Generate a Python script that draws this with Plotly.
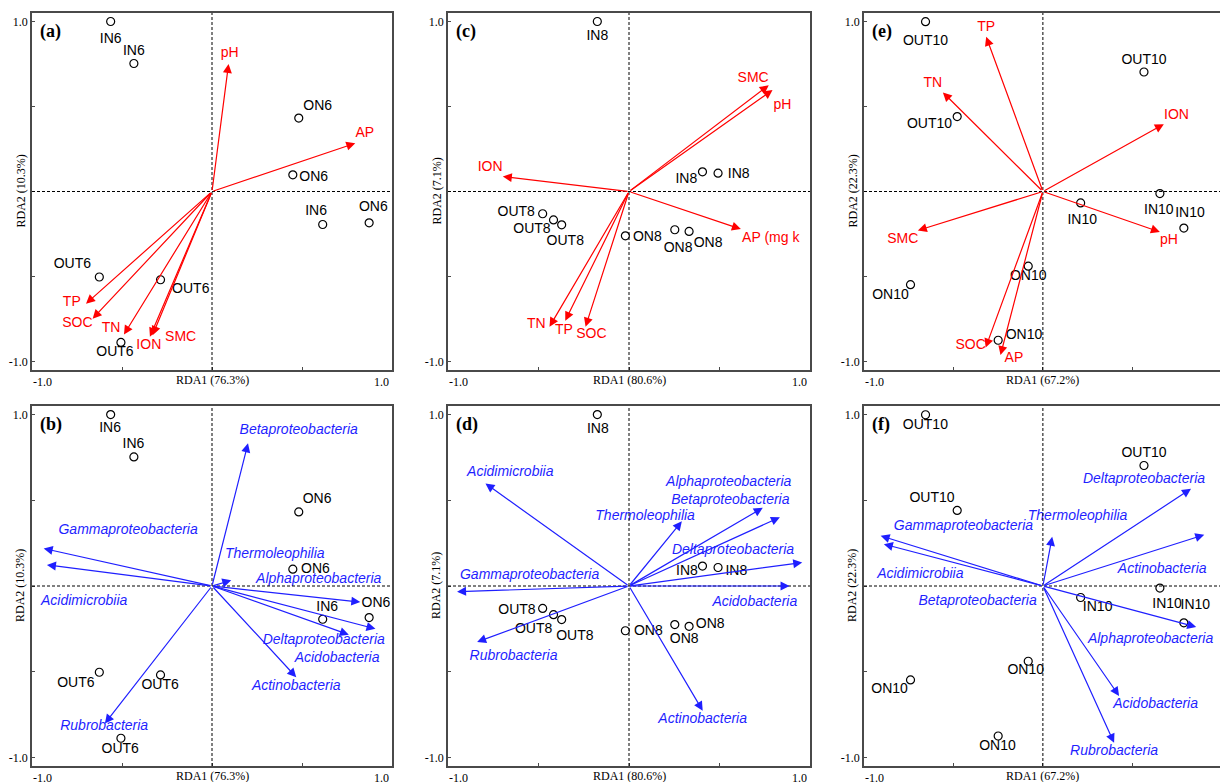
import plotly.graph_objects as go

# ---------------- data ----------------
# site scores (same samples in the upper and lower panel of each column)
s6_names = ["IN6", "IN6", "ON6", "ON6", "IN6", "ON6", "OUT6", "OUT6", "OUT6"]
s6_x = [-0.563, -0.434, 0.482, 0.449, 0.615, 0.873, -0.626, -0.286, -0.506]
s6_y = [1.000, 0.753, 0.432, 0.098, -0.194, -0.184, -0.503, -0.519, -0.888]

s8_names = ["IN8", "IN8", "IN8", "OUT8", "OUT8", "OUT8", "ON8", "ON8", "ON8"]
s8_x = [-0.175, 0.406, 0.492, -0.477, -0.417, -0.372, -0.020, 0.253, 0.332]
s8_y = [1.000, 0.116, 0.108, -0.131, -0.167, -0.196, -0.261, -0.225, -0.235]

s10_names = ["OUT10", "OUT10", "OUT10", "IN10", "IN10", "IN10", "ON10", "ON10", "ON10"]
s10_x = [-0.656, 0.565, -0.479, 0.211, 0.654, 0.788, -0.082, -0.740, -0.250]
s10_y = [0.999, 0.703, 0.441, -0.067, -0.012, -0.215, -0.439, -0.548, -0.875]

# sample label anchor positions per panel
a_lab_x = [-0.563, -0.434, 0.587, 0.565, 0.578, 0.896, -0.776, -0.118, -0.539]
a_lab_y = [0.896, 0.822, 0.499, 0.084, -0.115, -0.096, -0.431, -0.575, -0.949]
b_lab_x = [-0.566, -0.436, 0.584, 0.575, 0.640, 0.911, -0.756, -0.288, -0.510]
b_lab_y = [0.916, 0.826, 0.505, 0.094, -0.123, -0.104, -0.571, -0.581, -0.955]
c_lab_x = [-0.175, 0.317, 0.606, -0.623, -0.536, -0.352, 0.101, 0.271, 0.437]
c_lab_y = [0.911, 0.072, 0.098, -0.123, -0.221, -0.294, -0.270, -0.335, -0.306]
d_lab_x = [-0.172, 0.320, 0.593, -0.619, -0.527, -0.299, 0.107, 0.305, 0.449]
d_lab_y = [0.911, 0.084, 0.084, -0.141, -0.252, -0.297, -0.268, -0.313, -0.225]
e_lab_x = [-0.656, 0.565, -0.634, 0.220, 0.648, 0.822, -0.082, -0.852, -0.106]
e_lab_y = [0.881, 0.770, 0.396, -0.169, -0.110, -0.130, -0.500, -0.609, -0.845]
f_lab_x = [-0.657, 0.565, -0.620, 0.306, 0.694, 0.852, -0.096, -0.857, -0.254]
f_lab_y = [0.938, 0.772, 0.508, -0.127, -0.108, -0.113, -0.495, -0.606, -0.935]

# environmental vectors
a_env = ["pH", "AP", "TP", "SOC", "TN", "ION", "SMC"]
a_env_x = [0.092, 0.796, -0.700, -0.663, -0.489, -0.345, -0.330]
a_env_y = [0.750, 0.284, -0.660, -0.748, -0.841, -0.855, -0.845]
a_env_lx = [0.098, 0.849, -0.779, -0.748, -0.561, -0.351, -0.174]
a_env_ly = [0.812, 0.339, -0.654, -0.777, -0.806, -0.904, -0.861]

c_env = ["SMC", "pH", "ION", "AP (mg k", "TN", "TP", "SOC"]
c_env_x = [0.772, 0.793, -0.697, 0.618, -0.439, -0.352, -0.240]
c_env_y = [0.625, 0.597, 0.088, -0.221, -0.795, -0.760, -0.795]
c_env_lx = [0.686, 0.848, -0.767, 0.783, -0.512, -0.359, -0.208]
c_env_ly = [0.664, 0.503, 0.141, -0.276, -0.784, -0.815, -0.844]

e_env = ["TP", "TN", "ION", "SMC", "pH", "SOC", "AP"]
e_env_x = [-0.317, -0.559, 0.676, -0.699, 0.654, -0.320, -0.237]
e_env_y = [0.910, 0.583, 0.396, -0.229, -0.238, -0.918, -0.962]
e_env_lx = [-0.317, -0.615, 0.747, -0.783, 0.704, -0.404, -0.162]
e_env_ly = [0.967, 0.633, 0.445, -0.282, -0.288, -0.908, -0.983]

# bacterial class vectors
b_sp = ["Betaproteobacteria", "Gammaproteobacteria", "Acidimicrobiia", "Thermoleophilia",
        "Alphaproteobacteria", "Acidobacteria", "Deltaproteobacteria", "Actinobacteria", "Rubrobacteria"]
b_sp_x = [0.200, -0.935, -0.917, 0.107, 0.824, 0.908, 0.760, 0.468, -0.595]
b_sp_y = [0.832, 0.219, 0.123, 0.033, -0.094, -0.250, -0.284, -0.532, -0.802]
b_sp_lx = [0.482, -0.466, -0.710, 0.349, 0.593, 0.695, 0.621, 0.468, -0.599]
b_sp_ly = [0.910, 0.323, -0.092, 0.182, 0.039, -0.425, -0.317, -0.587, -0.822]

d_sp = ["Acidimicrobiia", "Alphaproteobacteria", "Betaproteobacteria", "Thermoleophilia",
        "Deltaproteobacteria", "Gammaproteobacteria", "Acidobacteria", "Rubrobacteria", "Actinobacteria"]
d_sp_x = [-0.793, 0.739, 0.834, 0.292, 0.957, -0.950, 0.887, -0.839, 0.407]
d_sp_y = [0.598, 0.456, 0.401, 0.377, 0.137, -0.033, 0.000, -0.326, -0.727]
d_sp_lx = [-0.656, 0.551, 0.560, 0.089, 0.575, -0.549, 0.695, -0.638, 0.407]
d_sp_ly = [0.665, 0.606, 0.499, 0.407, 0.205, 0.059, -0.098, -0.414, -0.780]

f_sp = ["Deltaproteobacteria", "Gammaproteobacteria", "Acidimicrobiia", "Thermoleophilia",
        "Actinobacteria", "Betaproteobacteria", "Alphaproteobacteria", "Acidobacteria", "Rubrobacteria"]
f_sp_x = [0.828, -0.907, -0.889, 0.052, 0.902, 0.000, 0.857, 0.426, 0.398]
f_sp_y = [0.567, 0.293, 0.244, 0.287, 0.299, 0.006, -0.239, -0.641, -0.915]
f_sp_lx = [0.565, -0.444, -0.685, 0.194, 0.667, -0.365, 0.602, 0.630, 0.398]
f_sp_ly = [0.622, 0.348, 0.065, 0.407, 0.094, -0.088, -0.313, -0.690, -0.964]

rda1 = ["RDA1 (76.3%)", "RDA1 (80.6%)", "RDA1 (67.2%)"]
rda2 = ["RDA2 (10.3%)", "RDA2 (7.1%)", "RDA2 (22.3%)"]

# ---------------- styling ----------------
W, H = 1220, 782
RED = "#ff0000"
BLUE = "#1f1fff"
SERIF = "Liberation Serif, Times New Roman, serif"
SANS = "Liberation Sans, Arial, sans-serif"
col_px = [(32, 392), (448, 810), (864, 1220)]
row_px = [(13, 370), (406, 766)]
x_ranges = [[-1, 1], [-1, 1], [-1, 0.99]]

panels = [
    dict(letter="(a)", col=0, row=0, names=s6_names, sx=s6_x, sy=s6_y, lx=a_lab_x, ly=a_lab_y,
         vn=a_env, vx=a_env_x, vy=a_env_y, vlx=a_env_lx, vly=a_env_ly, color=RED, italic=False),
    dict(letter="(b)", col=0, row=1, names=s6_names, sx=s6_x, sy=s6_y, lx=b_lab_x, ly=b_lab_y,
         vn=b_sp, vx=b_sp_x, vy=b_sp_y, vlx=b_sp_lx, vly=b_sp_ly, color=BLUE, italic=True),
    dict(letter="(c)", col=1, row=0, names=s8_names, sx=s8_x, sy=s8_y, lx=c_lab_x, ly=c_lab_y,
         vn=c_env, vx=c_env_x, vy=c_env_y, vlx=c_env_lx, vly=c_env_ly, color=RED, italic=False),
    dict(letter="(d)", col=1, row=1, names=s8_names, sx=s8_x, sy=s8_y, lx=d_lab_x, ly=d_lab_y,
         vn=d_sp, vx=d_sp_x, vy=d_sp_y, vlx=d_sp_lx, vly=d_sp_ly, color=BLUE, italic=True),
    dict(letter="(e)", col=2, row=0, names=s10_names, sx=s10_x, sy=s10_y, lx=e_lab_x, ly=e_lab_y,
         vn=e_env, vx=e_env_x, vy=e_env_y, vlx=e_env_lx, vly=e_env_ly, color=RED, italic=False),
    dict(letter="(f)", col=2, row=1, names=s10_names, sx=s10_x, sy=s10_y, lx=f_lab_x, ly=f_lab_y,
         vn=f_sp, vx=f_sp_x, vy=f_sp_y, vlx=f_sp_lx, vly=f_sp_ly, color=BLUE, italic=True),
]

fig = go.Figure()
annotations = []
shapes = []
layout = dict(width=W, height=H, margin=dict(l=0, r=0, t=0, b=0, pad=0, autoexpand=False),
              paper_bgcolor="white", plot_bgcolor="white", showlegend=False)

pad = "\u00a0" * 7
for i, p in enumerate(panels, start=1):
    xa = "x" if i == 1 else f"x{i}"
    ya = "y" if i == 1 else f"y{i}"
    c, r = p["col"], p["row"]
    x0, x1 = col_px[c]
    y0, y1 = row_px[r]
    xdom = [x0 / W, min(1.0, x1 / W)]
    ydom = [1 - y1 / H, 1 - y0 / H]
    layout["xaxis" if i == 1 else f"xaxis{i}"] = dict(
        domain=xdom, range=x_ranges[c], anchor=ya, showgrid=False, zeroline=False,
        automargin=False,
        showline=True, mirror=True, linecolor="#4a4a4a", linewidth=1.5,
        ticks="inside", ticklen=3, tickcolor="#4a4a4a",
        tickvals=[-1, -0.5, 0, 0.5, 1], ticktext=[pad + "-1.0", "", "", "", "1.0" + pad],
        tickfont=dict(family=SERIF, size=12, color="black"), fixedrange=True)
    layout["yaxis" if i == 1 else f"yaxis{i}"] = dict(
        domain=ydom, range=[-1.05, 1.05], anchor=xa, showgrid=False, zeroline=False,
        automargin=False,
        showline=True, mirror=(c != 2), linecolor="#4a4a4a", linewidth=1.5,
        ticks="inside", ticklen=3, tickcolor="#4a4a4a",
        tickvals=[-1, -0.5, 0, 0.5, 1], ticktext=["-1.0", "", "", "", "1.0"],
        tickfont=dict(family=SERIF, size=12, color="black"), fixedrange=True)

    # dashed zero lines
    shapes.append(dict(type="line", xref=xa, yref=f"{ya} domain", x0=0, x1=0, y0=0, y1=1,
                       line=dict(color="black", width=1, dash="3px,2px")))
    shapes.append(dict(type="line", xref=f"{xa} domain", yref=ya, x0=0, x1=1, y0=0, y1=0,
                       line=dict(color="black", width=1, dash="3px,2px")))

    # vectors
    for vx, vy in zip(p["vx"], p["vy"]):
        annotations.append(dict(x=vx, y=vy, xref=xa, yref=ya, ax=0, ay=0, axref=xa, ayref=ya,
                                text="", showarrow=True, arrowhead=2, arrowsize=1.5,
                                arrowwidth=1.2, arrowcolor=p["color"], standoff=0))
    fig.add_trace(go.Scatter(
        x=p["vlx"], y=p["vly"], xaxis=xa, yaxis=ya, mode="text", text=p["vn"],
        textposition="middle center", cliponaxis=False, hoverinfo="skip",
        textfont=dict(family=SANS, size=14, color=p["color"],
                      style="italic" if p["italic"] else "normal")))

    # samples
    fig.add_trace(go.Scatter(
        x=p["sx"], y=p["sy"], xaxis=xa, yaxis=ya, mode="markers",
        marker=dict(symbol="circle-open", size=8, color="black", line=dict(width=1.2)),
        cliponaxis=False, hovertext=p["names"]))
    fig.add_trace(go.Scatter(
        x=p["lx"], y=p["ly"], xaxis=xa, yaxis=ya, mode="text", text=p["names"],
        textposition="middle center", cliponaxis=False, hoverinfo="skip",
        textfont=dict(family=SANS, size=14, color="black")))

    # panel letter
    annotations.append(dict(x=0, y=1, xref=f"{xa} domain", yref=f"{ya} domain",
                            text="<b>" + p["letter"] + "</b>", showarrow=False,
                            xanchor="left", yanchor="middle", xshift=6, yshift=-18,
                            font=dict(family=SERIF, size=18, color="black")))
    # axis titles
    annotations.append(dict(x=0, y=0, xref=xa, yref=f"{ya} domain", text=rda1[c],
                            showarrow=False, xanchor="center", yanchor="middle", yshift=-10,
                            font=dict(family=SERIF, size=12, color="black")))
    annotations.append(dict(x=0, y=0, xref=f"{xa} domain", yref=ya, text=rda2[c],
                            showarrow=False, xanchor="center", yanchor="middle", xshift=-12,
                            textangle=-90, font=dict(family=SERIF, size=12, color="black")))

layout["annotations"] = annotations
layout["shapes"] = shapes
fig.update_layout(**layout)
fig.write_html("out.html", config={"displayModeBar": False},
               post_script="document.body.style.margin='0';document.body.style.overflow='hidden';")
